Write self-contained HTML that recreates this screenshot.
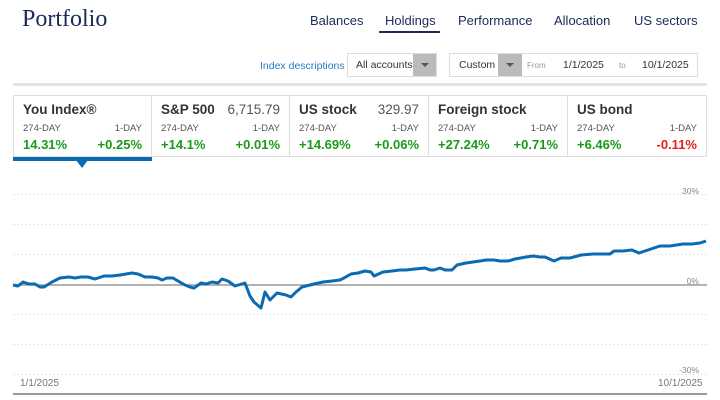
<!DOCTYPE html>
<html><head><meta charset="utf-8"><style>
*{margin:0;padding:0;box-sizing:border-box}
body{width:720px;height:400px;background:#fff;position:relative;overflow:hidden;font-family:"Liberation Sans",sans-serif}
.a{position:absolute;white-space:nowrap}
.tab{font-size:13px;color:#1a2b5b;top:13px}
.card{position:absolute;top:95px;height:62px;border:1px solid #ddd;border-left:none}
.card .t{position:absolute;left:9px;top:6px;font-size:13.5px;font-weight:bold;color:#333}
.card .v{position:absolute;right:9px;top:6px;font-size:13.5px;color:#555}
.card .d1{position:absolute;left:9px;top:27px;font-size:9.5px;color:#555}
.card .d2{position:absolute;right:9px;top:27px;font-size:9.5px;color:#555}
.card .p1{position:absolute;left:9px;top:41px;font-size:13px;font-weight:bold;color:#1a9a1a}
.card .p2{position:absolute;right:9px;top:41px;font-size:13px;font-weight:bold;color:#1a9a1a}
.sm{font-size:10.5px;color:#333}
</style></head><body>
<div class="a" style="left:22px;top:6px;font-family:'Liberation Serif','DejaVu Serif',serif;font-size:24px;color:#1a2b5b">Portfolio</div>
<div class="a tab" style="left:310px">Balances</div>
<div class="a tab" style="left:385px">Holdings</div>
<div class="a" style="left:379px;top:31px;width:61px;height:2px;background:#1a2b5b"></div>
<div class="a tab" style="left:458px">Performance</div>
<div class="a tab" style="left:554px">Allocation</div>
<div class="a tab" style="left:634px">US sectors</div>

<div class="a" style="left:260px;top:60px;font-size:10.5px;color:#2a7bc4">Index descriptions</div>
<div class="a" style="left:347px;top:53px;width:90px;height:24px;border:1px solid #ddd"></div>
<div class="a sm" style="left:356px;top:59px">All accounts</div>
<div class="a" style="left:413px;top:54px;width:23px;height:22px;background:#bbb"></div>
<div class="a" style="left:421px;top:63px;border-left:4px solid transparent;border-right:4px solid transparent;border-top:4px solid #555"></div>
<div class="a" style="left:449px;top:53px;width:249px;height:24px;border:1px solid #ddd"></div>
<div class="a sm" style="left:459px;top:59px">Custom</div>
<div class="a" style="left:498px;top:54px;width:24px;height:22px;background:#bbb"></div>
<div class="a" style="left:506px;top:63px;border-left:4px solid transparent;border-right:4px solid transparent;border-top:4px solid #555"></div>
<div class="a" style="left:527px;top:61px;font-size:8px;color:#999">From</div>
<div class="a sm" style="left:563px;top:59px">1/1/2025</div>
<div class="a" style="left:619px;top:61px;font-size:8px;color:#999">to</div>
<div class="a sm" style="left:642px;top:59px">10/1/2025</div>
<div class="a" style="left:13px;top:83px;width:694px;height:3px;background:#e4e4e4"></div>

<div class="card" style="left:13px;width:139px;border-left:1px solid #ddd"><div class="t">You Index®</div><div class="d1">274-DAY</div><div class="d2">1-DAY</div><div class="p1">14.31%</div><div class="p2">+0.25%</div></div>
<div class="card" style="left:152px;width:138px"><div class="t">S&amp;P 500</div><div class="v">6,715.79</div><div class="d1">274-DAY</div><div class="d2">1-DAY</div><div class="p1">+14.1%</div><div class="p2">+0.01%</div></div>
<div class="card" style="left:290px;width:139px"><div class="t">US stock</div><div class="v">329.97</div><div class="d1">274-DAY</div><div class="d2">1-DAY</div><div class="p1">+14.69%</div><div class="p2">+0.06%</div></div>
<div class="card" style="left:429px;width:139px"><div class="t">Foreign stock</div><div class="d1">274-DAY</div><div class="d2">1-DAY</div><div class="p1">+27.24%</div><div class="p2">+0.71%</div></div>
<div class="card" style="left:568px;width:139px"><div class="t">US bond</div><div class="d1">274-DAY</div><div class="d2">1-DAY</div><div class="p1">+6.46%</div><div class="p2" style="color:#e02020">-0.11%</div></div>
<div class="a" style="left:13px;top:157px;width:139px;height:4px;background:#0a6ab2"></div>
<div class="a" style="left:76px;top:160px;border-left:6px solid transparent;border-right:6px solid transparent;border-top:8px solid #0a6ab2"></div>

<svg class="a" style="left:0;top:0" width="720" height="400">
<g stroke="#e6e6e6" stroke-dasharray="2,2" stroke-width="1">
<line x1="13" x2="707" y1="194.5" y2="194.5"/><line x1="13" x2="707" y1="224.5" y2="224.5"/><line x1="13" x2="707" y1="254.5" y2="254.5"/><line x1="13" x2="707" y1="314.5" y2="314.5"/><line x1="13" x2="707" y1="344.5" y2="344.5"/><line x1="13" x2="707" y1="374.5" y2="374.5"/>
</g>
<line x1="13" x2="707" y1="285" y2="285" stroke="#999" stroke-width="1.5"/>
<line x1="13" x2="707" y1="394" y2="394" stroke="#999" stroke-width="2"/>
<g font-family="Liberation Sans,sans-serif" font-size="8.5" fill="#888" text-anchor="end">
<text x="699" y="194">30%</text><text x="699" y="284">0%</text><text x="699" y="373">-30%</text></g>
<g font-family="Liberation Sans,sans-serif" font-size="10" fill="#777">
<text x="20" y="386">1/1/2025</text><text x="658" y="386">10/1/2025</text></g>
<polyline fill="none" stroke="#0a6ab2" stroke-width="3" stroke-linejoin="round" points="13,285 18,286 23,282 29,284 35,284 40,287 44,287 52,282 60,278 69,277 75,278 81,277 88,277 95,279 104,276 112,276 120,275 126,274 132,273 138,274 145,277 152,277 158,278 162,280 167,278 173,278 178,281 185,285 190,287 194,288 201,283 206,284 212,282 218,283 222,279 228,281 235,286 245,283 250,296 254,302 261,308 265,292 270,300 277,293 286,295 291,297 296,292 302,287 314,284 323,282 332,281 340,280 344,278 351,274 358,273 365,271 371,272 374,276 383,272 392,271 400,270 406,270 415,269 425,268 430,270 434,270 440,268 445,270 452,270 457,265 466,263 480,261 486,260 494,260 500,261 508,261 515,259 526,257 533,256 540,257 545,257 554,261 561,258 570,258 581,255 593,254 605,254 610,254 614,251 623,251 632,250 639,253 645,251 651,249 660,246 670,246 683,244 692,244 700,243 706,241"/>
</svg>
</body></html>
